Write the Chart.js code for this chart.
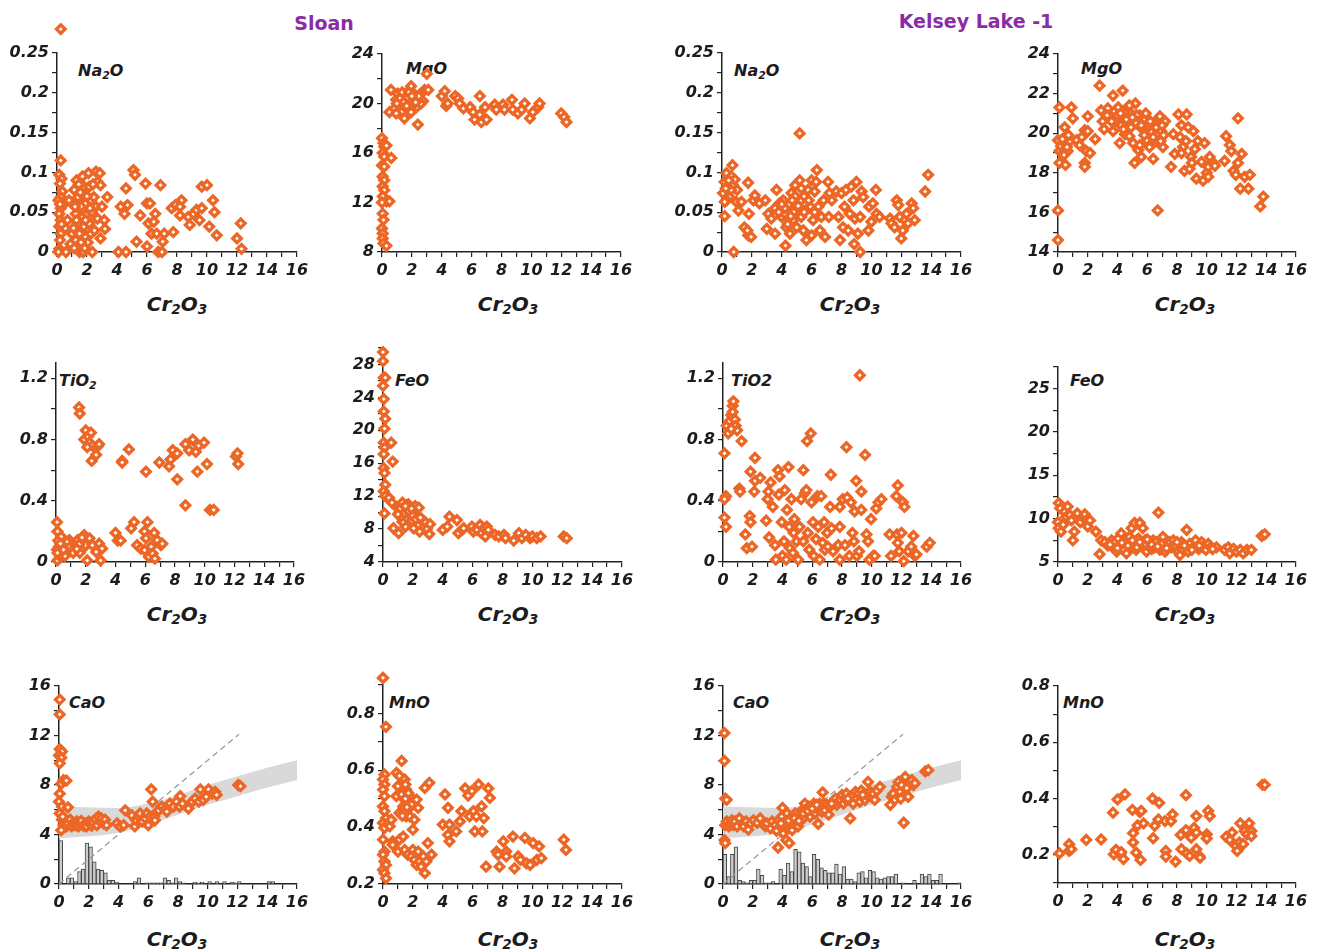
<!DOCTYPE html>
<html>
<head>
<meta charset="utf-8">
<script src="https://cdn.jsdelivr.net/npm/chart.js@4.4.1/dist/chart.umd.min.js"></script>
<style>
body { margin: 0; background: #fff; width: 1318px; height: 952px; position: relative; overflow: hidden; font-family: 'DejaVu Sans', sans-serif; }
canvas { position: absolute; }
.lbl { position: absolute; font: italic bold 16px 'DejaVu Sans', sans-serif; color: #1c1c1c; line-height: 18px; white-space: nowrap; }
.ax { position: absolute; font: italic bold 20px 'DejaVu Sans', sans-serif; color: #1c1c1c; line-height: 24px; transform: translateX(-50%); white-space: nowrap; }
.ttl { position: absolute; font: bold 19px 'DejaVu Sans', sans-serif; color: #8B2CA6; line-height: 24px; transform: translateX(-50%); white-space: nowrap; }
sub { font-size: 0.68em; vertical-align: -0.25em; line-height: 0; }
</style>
</head>
<body>
<div class="ttl" style="left:324px;top:11px">Sloan</div>
<div class="ttl" style="left:976px;top:9px">Kelsey Lake -1</div>

<div class="lbl" style="left:78px;top:62px">Na<sub>2</sub>O</div>
<div class="lbl" style="left:406px;top:60px">MgO</div>
<div class="lbl" style="left:734px;top:62px">Na<sub>2</sub>O</div>
<div class="lbl" style="left:1081px;top:60px">MgO</div>
<div class="lbl" style="left:59px;top:372px">TiO<sub>2</sub></div>
<div class="lbl" style="left:395px;top:372px">FeO</div>
<div class="lbl" style="left:731px;top:372px">TiO2</div>
<div class="lbl" style="left:1070px;top:372px">FeO</div>
<div class="lbl" style="left:69px;top:694px">CaO</div>
<div class="lbl" style="left:389px;top:694px">MnO</div>
<div class="lbl" style="left:733px;top:694px">CaO</div>
<div class="lbl" style="left:1063px;top:694px">MnO</div>

<div class="ax" style="left:177px;top:292px">Cr<sub>2</sub>O<sub>3</sub></div>
<div class="ax" style="left:508px;top:292px">Cr<sub>2</sub>O<sub>3</sub></div>
<div class="ax" style="left:850px;top:292px">Cr<sub>2</sub>O<sub>3</sub></div>
<div class="ax" style="left:1185px;top:292px">Cr<sub>2</sub>O<sub>3</sub></div>
<div class="ax" style="left:177px;top:602px">Cr<sub>2</sub>O<sub>3</sub></div>
<div class="ax" style="left:508px;top:602px">Cr<sub>2</sub>O<sub>3</sub></div>
<div class="ax" style="left:850px;top:602px">Cr<sub>2</sub>O<sub>3</sub></div>
<div class="ax" style="left:1185px;top:602px">Cr<sub>2</sub>O<sub>3</sub></div>
<div class="ax" style="left:177px;top:927px">Cr<sub>2</sub>O<sub>3</sub></div>
<div class="ax" style="left:508px;top:927px">Cr<sub>2</sub>O<sub>3</sub></div>
<div class="ax" style="left:850px;top:927px">Cr<sub>2</sub>O<sub>3</sub></div>
<div class="ax" style="left:1185px;top:927px">Cr<sub>2</sub>O<sub>3</sub></div>

<script>
// Cr2O3 (x) vs oxide (y), wt%

const sloanNa2O = [
  [0.25,0.28],[0.25,0.115],[0.15,0.097],[0.3,0.092],[0.2,0.086],[0.35,0.076],[0.25,0.069],[0.1,0.065],[0.25,0.055],[0.15,0.048],
  [0.25,0.04],[0.15,0.032],[0.25,0.023],[0.2,0.015],[0.15,0.004],[0.1,0],[0.6,0],[0.8,0.065],[0.7,0.04],[1.0,0.023],[0.9,0.01],
  [0.55,0.03],[0.45,0.06],[0.3,0.035],[0.2,0.06],
  [1.15,0.078],[1.35,0.065],[1.5,0.048],[1.6,0.027],[1.25,0.015],[1.5,0],[1.7,0.095],[1.8,0.082],[1.9,0.061],[1.6,0.057],
  [1.7,0.044],[1.8,0.032],[1.9,0.019],[1.25,0.048],[1.4,0.036],[1.5,0.023],[2.1,0.099],[2.15,0.082],[2.25,0.065],[2.0,0.048],
  [2.15,0.036],[2.25,0.023],[2.35,0],[1.75,0],[2.6,0.101],[2.85,0.099],[2.7,0.088],[2.9,0.084],[2.45,0.069],[2.6,0.057],
  [2.7,0.042],[2.5,0.027],[2.9,0.017],[3.0,0.057],[3.15,0.04],[3.2,0.029],[3.35,0.069],[1.4,0.069],[1.2,0.057],
  [1.3,0.09],[1.55,0.075],[2.0,0.07],[1.1,0.03],[2.3,0.05],[1.85,0.005],[2.05,0.012],
  [1.3,0.04],[1.6,0.012],[1.9,0.04],[2.2,0.055],[1.45,0.085],[2.4,0.085],[1.15,0.005],
  [4.1,0],[4.6,0],[4.25,0.057],[4.6,0.08],[4.5,0.048],[4.7,0.059],[5.1,0.103],[5.2,0.097],[5.3,0.013],[5.55,0.046],
  [5.9,0.086],[6.0,0.061],[6.1,0.036],[6.0,0.007],[6.2,0.061],[6.3,0.023],[6.45,0.038],[6.55,0.048],[6.65,0.023],[6.75,0],
  [6.9,0.084],[7.0,0],[7.05,0.013],[7.15,0.023],
  [7.65,0.055],[7.75,0.025],[7.9,0.059],[8.2,0.046],[8.3,0.065],[8.2,0.057],[8.75,0.044],[8.85,0.034],[9.1,0.048],[9.3,0.053],
  [9.5,0.04],[9.65,0.055],[9.65,0.082],[10.0,0.084],[10.15,0.032],[10.4,0.065],[10.5,0.05],[10.65,0.021],
  [12.0,0.017],[12.25,0.036],[12.3,0.004]
];

const sloanMgO = [
  [0,17.2],[0.1,16.8],[0.15,16.5],[0.3,16.6],[0.05,16.0],[0.15,15.7],[0.62,15.6],[0,15.0],[0.15,14.9],[0.05,14.1],
  [0.15,13.8],[0.05,13.3],[0.15,13.0],[0.05,12.5],[0.3,12.1],[0.5,12.1],[0,12.0],[0.05,11.1],[0.1,10.6],[0,9.9],
  [0.05,9.5],[0.05,9.1],[0.1,8.7],[0.3,8.5],
  [0.6,21.1],[0.5,19.3],[0.85,19.6],[0.95,20.3],[1.05,20.8],[1.2,20.0],[1.3,20.6],[1.4,19.7],[1.5,20.2],[1.5,18.8],
  [1.6,20.8],[1.75,19.5],[1.85,20.4],[1.95,21.4],[2.1,19.9],[2.2,20.7],[2.3,19.7],[2.4,18.3],[2.5,20.4],[2.6,20.8],
  [2.75,20.2],[2.85,21.1],[3.0,22.4],[3.1,21.1],[2.6,20.0],[1.3,19.3],[0.95,19.2],[1.6,20.0],[1.95,19.3],[2.1,20.3],
  [1.1,19.9],[1.35,20.9],[1.7,20.5],[2.0,20.1],[1.2,20.4],[1.45,20.1],[1.8,20.9],[2.25,20.1],[1.0,20.0],[2.45,20.6],
  [1.65,19.8],[2.0,20.6],
  [4.0,20.6],[4.2,21.0],[4.3,19.8],[4.4,20.0],[4.9,20.6],[5.1,20.4],[5.2,20.0],[5.45,19.6],[5.9,19.7],[6.1,19.3],
  [6.2,18.7],[6.55,20.6],[6.55,19.1],[6.65,18.5],[6.9,19.7],[7.0,18.7],[7.55,19.9],[7.65,19.5],[8.1,19.9],[8.2,19.5],
  [8.7,20.3],[8.75,19.5],[9.1,19.2],[9.35,19.5],[9.55,20.0],[9.9,18.8],[10.1,19.3],[10.45,19.7],[10.55,20.0],
  [12.0,19.2],[12.2,18.9],[12.35,18.5]
];

const kelseyNa2O = [
  [0.07,0.074],[0.18,0.088],[0.3,0.099],[0.4,0.082],[0.5,0.069],[0.63,0.095],[0.7,0.109],[0.74,0.084],[0.3,0.065],[0.18,0.063],
  [0.85,0.091],[1.0,0.078],[0.18,0.045],[0.78,0],[0.96,0.063],[1.1,0.052],[1.3,0.063],[0.45,0.09],[0.6,0.078],[0.25,0.08],
  [1.75,0.087],[1.8,0.048],[1.5,0.031],[1.75,0.021],[1.95,0.019],[2.1,0.065],[2.2,0.071],[1.7,0.027],
  [2.5,0.061],[2.9,0.065],[3.1,0.048],[3.0,0.029],[3.3,0.042],[3.55,0.055],[3.65,0.078],[3.55,0.023],[3.85,0.061],[4.0,0.044],
  [4.1,0.065],[4.2,0.048],[4.3,0.031],[4.25,0.008],[4.4,0.057],[4.55,0.023],[4.65,0.074],[4.75,0.04],[4.9,0.084],[4.9,0.061],
  [5.0,0.048],[5.0,0.031],[5.2,0.149],[5.2,0.09],[5.3,0.065],[5.3,0.044],[5.45,0.027],[5.65,0.015],[5.75,0.078],[5.9,0.057],
  [6.0,0.09],[6.0,0.021],[6.1,0.04],[6.2,0.076],[6.3,0.088],[6.35,0.103],[6.45,0.057],[6.55,0.027],[6.65,0.044],[6.8,0.065],
  [6.9,0.019],[7.1,0.088],[7.2,0.074],[7.15,0.044],[7.35,0.065],[3.9,0.052],[4.5,0.06],[4.8,0.05],[5.5,0.07],[5.6,0.052],
  [4.2,0.055],[4.6,0.045],[4.9,0.07],[5.1,0.058],[5.5,0.05],[5.8,0.065],[4.4,0.035],[3.8,0.05],[6.2,0.05],[5.3,0.08],
  [4.7,0.065],[4.0,0.06],
  [7.65,0.076],[7.8,0.044],[7.9,0.015],[8.0,0.074],[8.1,0.031],[8.2,0.057],[8.3,0.078],[8.45,0.027],[8.55,0.048],[8.65,0.082],
  [8.8,0.065],[8.85,0.01],[8.9,0.042],[9.0,0.088],[9.1,0.023],[9.25,0.044],[9.25,0],[9.35,0.076],[9.45,0.069],[9.8,0.027],
  [9.85,0.057],[10.0,0.038],[10.1,0.061],[10.3,0.078],[10.35,0.048],[10.55,0.044],
  [11.25,0.042],[11.35,0.036],[11.55,0.031],[11.7,0.065],[11.8,0.059],[11.9,0.044],[12.0,0.017],[12.1,0.027],[12.25,0.04],
  [12.35,0.048],[12.45,0.036],[12.7,0.061],[12.8,0.055],[12.9,0.04],[13.6,0.076],[13.8,0.097]
];

const kelseyMgO = [
  [0,16.1],[0,14.6],[0.1,21.3],[0,19.65],[0.1,19.1],[0.2,19.35],[0.35,19.0],[0.45,19.5],[0.55,19.8],[0.65,19.1],
  [0.45,20.3],[0.8,19.6],[0.1,18.5],[0.5,18.4],[0.9,21.3],[1.0,20.75],[1.25,19.65],[1.45,19.4],[1.6,19.8],[1.8,20.15],
  [1.8,18.5],[1.8,18.3],[1.9,19.1],[2.0,20.85],[2.0,20.1],[2.15,19.0],[2.5,19.7],[2.8,22.4],[2.9,21.15],[3.0,20.6],
  [3.1,20.2],[3.35,21.25],[3.45,20.75],[3.7,21.9],[3.7,20.1],[3.8,21.1],[3.9,20.6],[4.05,21.3],[4.15,19.5],[4.25,20.4],
  [4.35,22.15],[4.4,20.85],[4.5,19.95],[4.6,21.2],[4.7,20.5],[4.8,19.85],[4.9,21.0],[5.05,19.5],[5.15,18.5],[5.2,21.5],
  [5.25,20.5],[5.4,19.15],[5.5,20.9],[5.6,18.8],[5.7,20.2],[5.85,20.7],[5.95,19.65],[6.05,20.45],[6.15,19.3],[6.3,20.05],
  [6.4,18.7],[6.5,20.55],[6.6,19.6],[6.7,16.1],[6.85,20.85],[6.95,20.1],[7.05,19.3],[7.2,20.6],[4.0,20.9],[4.5,21.0],
  [4.2,21.0],[4.6,20.7],[4.9,20.3],[5.3,20.9],[5.6,20.4],[5.9,21.0],[6.2,20.6],[6.6,20.3],[4.4,20.2],[5.0,20.8],
  [5.8,19.9],[6.4,19.8],[7.0,20.4],[3.6,20.6],[4.8,21.4],[6.9,19.6],[7.1,19.9],[5.5,19.4],[3.3,20.9],
  [0.3,19.7],[0.6,19.3],[0.4,18.9],[0.7,19.9],
  [7.6,18.3],[7.75,19.95],[7.85,18.95],[8.1,20.95],[8.2,19.8],[8.3,20.4],[8.4,19.3],[8.5,18.1],[8.65,20.95],[8.75,20.3],
  [8.85,18.2],[8.95,18.8],[9.1,20.1],[9.2,19.2],[9.3,17.7],[9.4,19.6],[9.65,18.55],[9.75,17.6],[9.85,19.5],[10.0,18.0],
  [10.1,18.3],[10.2,18.8],[10.45,18.5],[10.55,18.35],[8.3,19.0],[8.6,19.6],[9.0,18.5],[10.1,17.8],
  [11.2,18.6],[11.3,19.85],[11.55,19.4],[11.65,19.1],[11.8,18.1],[11.95,17.9],[12.1,20.75],[12.1,18.5],[12.25,17.2],[12.35,18.95],
  [12.55,17.8],[12.8,17.2],[12.9,17.9],[13.6,16.3],[13.8,16.8]
];

const sloanTiO2 = [
  [0.07,0.26],[0.1,0.2],[0.15,0.14],[0.07,0.08],[0.1,0.01],[0.2,0.1],[0.35,0.165],[0.45,0.055],[0.55,0.12],[0.65,0.077],
  [0.8,0.1],[1.0,0.077],[1.25,0.088],[1.35,0.12],[1.45,0.143],[1.5,0.077],[1.7,0.12],[1.8,0.088],[1.9,0.175],[2.0,0.11],
  [2.1,0.01],[2.25,0.155],[2.45,0.11],[2.7,0.066],[2.9,0.12],[3.0,0.01],[3.1,0.088],[1.1,0.11],[0.9,0.143],[0.3,0.033],
  [0.2,0.05],[0.4,0.09],[0.6,0.04],[0.75,0.13],[0.95,0.1],[1.15,0.06],[1.3,0.1],[1.55,0.115],[1.6,0.06],[1.4,0.085],
  [0.3,0.12],[0.1,0.06],[1.75,0.16],[0.5,0.08],
  [1.55,1.01],[1.6,0.97],[2.0,0.86],[1.9,0.8],[2.15,0.82],[2.35,0.845],[2.25,0.78],[2.45,0.76],[2.4,0.66],[2.7,0.7],
  [2.8,0.755],[2.9,0.77],[2.1,0.75],
  [4.0,0.19],[4.15,0.14],[4.35,0.14],[4.45,0.66],[4.45,0.65],[4.9,0.735],[5.05,0.22],[5.25,0.26],[5.45,0.11],[5.7,0.088],
  [5.95,0.077],[6.05,0.59],[5.95,0.2],[6.05,0.155],[6.15,0.26],[6.25,0.033],[6.4,0.1],[6.5,0.055],[6.6,0.19],[6.65,0.022],
  [6.8,0.143],[6.95,0.65],[7.05,0.11],[7.15,0.12],
  [7.6,0.625],[7.7,0.67],[7.85,0.73],[8.15,0.71],[8.15,0.54],[8.7,0.77],[8.7,0.37],[8.95,0.73],[9.2,0.8],[9.4,0.72],
  [9.5,0.59],[9.6,0.76],[9.95,0.78],[10.15,0.64],[10.35,0.34],[10.6,0.34],[12.1,0.69],[12.2,0.71],[12.25,0.64]
];

const sloanFeO = [
  [0,29.5],[0,28.4],[0.05,26.4],[0.15,26.4],[0,25.4],[0.05,23.8],[0.05,22.3],[0.15,21.4],[0.1,20.2],[0.05,18.5],
  [0.55,18.5],[0.1,17.9],[0.05,17.1],[0.65,16.2],[0.05,15.4],[0.1,14.8],[0.15,13.4],[0.05,12.6],[0.15,12.0],[0.1,9.9],
  [0.4,11.8],[0.6,11.2],[0.7,8.1],[0.95,10.6],[1.05,7.5],[1.15,10.0],[1.3,11.2],[1.4,10.6],[1.5,9.2],[1.6,10.4],
  [1.7,11.0],[1.8,9.8],[1.95,9.0],[2.15,10.8],[2.3,9.6],[2.4,10.6],[2.45,7.7],[2.6,9.0],[2.85,8.8],[2.95,8.0],
  [3.1,7.4],[3.15,8.6],[1.5,8.3],[1.3,8.9],[2.05,8.1],[1.2,9.5],[1.6,10.9],[2.0,9.6],
  [1.1,10.4],[1.4,9.9],[1.7,10.2],[1.9,10.5],[2.2,9.2],[1.0,9.8],[1.5,10.8],[2.5,9.4],
  [4.0,7.9],[4.3,8.3],[4.45,9.5],[4.95,9.1],[5.05,7.5],[5.3,7.9],[5.4,8.1],[5.95,8.3],[6.05,7.7],[6.3,7.9],
  [6.5,8.5],[6.6,7.5],[6.75,8.1],[6.85,7.1],[6.95,8.3],[7.05,7.9],[7.5,7.3],[7.75,7.1],[8.1,7.3],[8.2,6.9],
  [8.75,6.6],[9.1,7.5],[9.3,6.9],[9.55,7.3],[9.85,6.9],[10.0,7.1],[10.3,6.9],[10.55,7.1],[12.1,7.1],[12.3,6.9]
];

const kelseyTiO2 = [
  [0.1,0.71],[0.2,0.43],[0.1,0.41],[0.1,0.29],[0.2,0.23],[0.25,0.89],[0.35,0.84],[0.45,0.92],[0.55,0.96],[0.65,1.02],
  [0.7,1.05],[0.8,0.93],[0.85,0.89],[0.95,0.86],[0.55,0.87],[0.65,0.98],[1.1,0.48],[1.15,0.46],[1.25,0.79],[1.5,0.18],
  [1.6,0.09],[1.8,0.3],[1.85,0.26],[1.85,0.59],[2.1,0.46],[2.15,0.53],[2.15,0.68],[1.95,0.1],[2.5,0.55],[2.9,0.27],
  [3.0,0.41],[3.05,0.46],[3.1,0.16],[3.2,0.52],[3.35,0.36],[3.5,0.11],[3.55,0.015],[3.7,0.6],[3.75,0.44],[3.8,0.56],
  [3.95,0.26],[4.0,0.04],[4.1,0.135],[4.15,0.47],[4.25,0.015],[4.3,0.34],[4.4,0.62],[4.45,0.23],[4.5,0.09],[4.6,0.41],
  [4.7,0.06],[4.75,0.19],[4.8,0.28],[4.95,0.135],[5.05,0.015],[5.15,0.23],[5.25,0.41],[5.4,0.6],[5.4,0.135],[5.5,0.45],
  [5.6,0.47],[5.65,0.79],[5.7,0.19],[5.8,0.08],[5.9,0.84],[5.95,0.39],[6.05,0.26],[6.1,0.04],[6.25,0.15],[6.35,0.43],
  [6.4,0.23],[6.5,0.015],[6.6,0.43],[6.7,0.125],[6.8,0.26],[6.85,0.08],[7.0,0.19],[7.05,0.1],[7.2,0.36],[7.25,0.57],
  [7.3,0.22],[7.4,0.07],[7.75,0.11],[7.85,0.36],[7.85,0.23],[7.85,0.015],[8.05,0.41],[8.2,0.11],[8.3,0.75],[8.35,0.42],
  [8.5,0.04],[8.6,0.39],[8.7,0.19],[8.8,0.135],[8.85,0.33],[8.95,0.53],[9.0,0.04],[9.15,0.07],[9.2,1.22],[9.3,0.46],
  [9.3,0.34],[9.55,0.7],[9.65,0.18],[9.75,0.135],[9.85,0.015],[9.95,0.28],[10.1,0.04],[10.2,0.04],[10.3,0.35],[10.45,0.39],
  [10.65,0.41],[11.2,0.18],[11.3,0.04],[11.65,0.43],[11.7,0.18],[11.75,0.5],[11.75,0.125],[11.85,0.07],[12.0,0.19],[12.1,0.39],
  [12.15,0.005],[12.2,0.36],[12.45,0.07],[12.65,0.1],[12.8,0.17],[12.9,0.04],[13.0,0.05],[13.7,0.1],[13.9,0.125]
];

const kelseyFeO = [
  [0.05,11.8],[0.15,11.2],[0,9.6],[0.05,8.9],[0.2,8.5],[0.35,9.3],[0.45,10.8],[0.55,10.2],[0.65,11.4],[0.8,10.4],
  [0.9,9.8],[1.0,7.5],[1.1,8.5],[1.3,10.6],[1.5,9.6],[1.8,10.5],[1.9,9.8],[2.0,9.1],[2.15,9.8],[2.55,8.5],
  [2.8,5.9],[2.9,7.5],[3.15,7.3],[3.35,6.9],[3.6,7.5],[3.7,6.7],[3.8,7.3],[3.95,6.2],[4.05,7.7],[4.15,6.9],
  [4.25,8.3],[4.4,6.4],[4.55,7.3],[4.6,6.0],[4.8,7.9],[4.85,6.7],[4.95,8.9],[5.05,7.1],[5.15,9.5],[5.25,6.4],
  [5.4,7.7],[5.5,9.5],[5.6,6.9],[5.7,8.9],[5.85,7.5],[5.95,6.2],[6.05,6.9],[6.2,7.3],[6.3,6.5],[6.4,7.5],
  [6.5,6.7],[6.6,7.3],[6.75,10.7],[6.85,6.4],[6.95,7.1],[7.05,7.9],[7.2,6.2],[7.5,7.3],[7.65,6.7],[7.75,7.5],
  [7.95,6.4],[8.1,6.9],[8.2,5.8],[8.3,7.3],[8.4,6.5],[8.65,8.7],[8.75,6.2],[8.85,7.1],[9.1,6.7],[9.25,7.5],
  [9.45,6.5],[9.65,7.3],[9.75,6.7],[9.95,6.4],[10.1,7.1],[10.25,6.7],[10.65,6.7],[11.2,6.4],[11.45,6.7],[11.55,6.0],
  [3.5,7.0],[4.3,7.2],[4.7,6.9],[5.0,7.5],[5.3,6.7],[5.9,7.1],[6.3,7.0],[6.7,6.8],[7.3,6.6],[7.9,6.9],
  [8.5,6.9],[9.0,6.4],[9.5,6.9],[4.0,6.6],[5.5,7.3],[6.0,7.6],[8.0,7.3],[10.4,6.5],
  [11.8,6.5],[12.0,6.2],[12.25,6.4],[12.45,6.0],[12.7,6.4],[13.0,6.4],[13.7,8.0],[13.9,8.2]
];

const sloanCaO = [
  [0.05,14.9],[0.05,13.7],[0.05,10.9],[0.2,10.7],[0,10.4],[0.15,10.2],[0.05,9.75],[0.15,8.1],[0.3,8.4],[0.5,8.35],
  [0.05,7.3],[0,6.65],[0.2,6.25],[0.6,6.2],[0.05,5.7],[0.2,5.2],[0.3,4.75],[0.4,5.05],[0.5,4.65],[0.6,4.9],
  [0.75,5.2],[0.85,4.65],[0.95,4.95],[1.1,4.75],[1.2,5.05],[1.3,4.65],[1.4,4.9],[1.5,5.1],[1.65,4.7],[1.75,4.9],
  [1.85,4.65],[2.0,5.05],[2.1,4.85],[2.2,4.7],[2.3,4.95],[2.45,5.25],[2.55,4.75],[2.65,5.45],[2.75,5.05],[2.85,5.3],
  [3.0,4.9],[3.1,5.2],[3.2,4.75],[0.15,4.35],[0.25,5.45],
  [3.9,4.9],[4.1,4.65],[4.35,4.75],[4.45,5.95],[4.9,5.55],[5.1,4.65],[5.2,5.15],[5.35,5.45],[5.45,5.7],[5.6,5.05],
  [5.8,5.3],[5.9,5.7],[6.0,4.75],[6.1,5.45],[6.2,7.65],[6.3,6.65],[6.4,5.45],[6.45,5.15],[6.6,5.85],[6.7,5.95],
  [6.9,6.25],[7.15,6.1],[7.25,5.85],[7.45,6.5],[7.7,6.25],[7.9,6.65],[8.1,6.25],[8.15,7.1],[8.3,6.5],[8.7,6.1],
  [8.95,6.65],[9.15,6.9],[9.4,6.65],[9.5,7.65],[9.7,6.8],[9.9,7.05],[10.05,7.65],[10.3,7.3],[10.5,7.45],[10.6,7.2],
  [12.05,8.0],[12.2,7.9]
];

const sloanMnO = [
  [0,0.925],[0.2,0.753],[0.1,0.585],[0,0.568],[0.1,0.55],[0,0.532],[0.1,0.509],[0,0.473],[0.1,0.456],[0.2,0.432],
  [0,0.415],[0.1,0.397],[0,0.356],[0.1,0.314],[0,0.303],[0.1,0.279],[0.2,0.267],[0,0.25],[0.1,0.238],[0.2,0.22],
  [0.35,0.415],[0.45,0.403],[0.55,0.426],[0.65,0.35],[0.65,0.338],[0.9,0.591],[1.0,0.544],[0.9,0.509],[1.1,0.58],[1.1,0.45],
  [1.25,0.633],[1.25,0.515],[1.35,0.556],[1.35,0.473],[1.45,0.497],[1.45,0.568],[1.55,0.532],[1.55,0.438],[1.65,0.491],[1.65,0.462],
  [1.8,0.509],[1.8,0.438],[1.9,0.479],[1.1,0.356],[1.35,0.367],[1.0,0.314],[1.45,0.32],[1.65,0.303],[1.9,0.297],[2.0,0.391],
  [2.1,0.426],[2.25,0.497],[2.35,0.468],[2.0,0.32],[2.1,0.285],[2.25,0.267],[2.35,0.314],[2.45,0.279],[2.55,0.261],[2.7,0.297],
  [2.8,0.238],[2.9,0.279],[2.8,0.538],[3.0,0.344],[3.1,0.556],[3.25,0.303],
  [1.5,0.5],[1.6,0.47],[1.4,0.45],[1.7,0.52],[1.5,0.55],[1.3,0.44],
  [4.0,0.409],[4.15,0.515],[4.35,0.468],[4.45,0.409],[4.35,0.373],[4.45,0.35],[4.9,0.385],[5.15,0.42],[5.25,0.456],[5.5,0.536],
  [5.7,0.511],[5.8,0.438],[5.95,0.527],[6.05,0.456],[6.15,0.385],[6.25,0.438],[6.4,0.55],[6.6,0.473],[6.65,0.385],[6.75,0.432],
  [6.9,0.261],[7.05,0.536],[7.15,0.503],
  [7.6,0.314],[7.7,0.303],[7.8,0.261],[8.05,0.35],[8.25,0.314],[8.25,0.297],[8.7,0.367],[8.8,0.255],[9.05,0.297],[9.2,0.285],
  [9.5,0.362],[9.6,0.273],[9.85,0.267],[10.05,0.344],[10.3,0.285],[10.45,0.332],[10.6,0.291],[12.1,0.356],[12.25,0.32]
];

const kelseyCaO = [
  [0.1,12.2],[0.1,9.95],[0.15,6.9],[0.25,6.8],[0.1,3.55],[0.15,3.3],[0.15,4.75],[0.25,5.05],[0.4,4.65],[0.5,4.9],
  [0.6,5.15],[0.7,4.75],[0.8,5.05],[0.95,4.65],[1.1,5.3],[1.3,4.9],[1.4,4.65],[1.55,5.05],[1.7,4.4],[1.85,4.9],
  [2.05,5.15],[2.3,4.95],[2.5,5.3],[2.85,4.65],[2.95,4.9],[3.2,4.5],[3.3,5.05],[3.5,4.75],[3.6,4.3],[3.7,2.95],
  [3.75,5.15],[3.85,4.65],[3.95,5.45],[4.0,6.15],[4.05,4.1],[4.2,5.05],[4.25,3.55],[4.3,5.7],[4.4,4.65],[4.45,3.3],
  [4.5,5.3],[4.65,4.35],[4.75,4.9],[4.85,5.7],[4.95,5.15],[5.05,4.65],[5.2,5.55],[5.3,5.95],[5.4,5.3],[5.5,6.5],
  [5.65,5.7],[5.75,6.25],[5.85,5.45],[5.95,5.95],[6.1,6.5],[6.2,5.7],[6.3,6.1],[6.4,4.85],[6.5,6.5],[6.65,5.85],
  [6.7,7.4],[6.8,6.5],[6.85,5.95],[7.0,6.4],[7.1,5.6],[7.2,6.25],[7.45,6.65],[7.55,6.9],[7.65,6.4],[7.75,6.65],
  [7.9,6.8],[8.0,7.2],[8.1,6.5],[8.2,6.9],[8.3,7.3],[8.45,6.8],[8.55,5.3],[8.65,7.05],[8.75,6.5],[8.9,7.45],
  [9.0,6.9],[9.1,7.3],[9.2,6.65],[9.3,7.55],[9.45,7.05],[9.55,6.8],[9.65,7.2],[9.75,8.25],[9.9,7.45],[10.0,7.05],
  [10.1,7.3],[10.2,6.8],[10.35,7.55],[10.55,7.85],[4.6,5.0],[5.0,5.4],[5.6,6.0],[4.2,4.6],
  [4.4,5.1],[4.8,5.3],[5.1,5.1],[5.4,5.7],[5.7,5.9],[6.0,6.1],[4.1,4.8],[3.9,4.9],[6.3,6.4],[7.3,6.5],
  [8.4,6.9],[9.4,7.2],
  [11.25,6.4],[11.35,7.05],[11.45,7.3],[11.55,6.8],[11.7,7.85],[11.8,8.25],[11.9,7.45],[11.95,6.9],[12.0,8.0],[12.15,4.95],
  [12.25,8.65],[12.35,7.75],[12.45,7.05],[12.7,8.4],[12.8,8.0],[12.9,8.15],[13.6,9.1],[13.8,9.2]
];

const kelseyMnO = [
  [0.1,0.205],[0.75,0.238],[0.75,0.214],[0.9,0.22],[1.9,0.253],[2.9,0.255],[3.7,0.35],[3.75,0.202],[3.9,0.218],[4.0,0.397],
  [4.2,0.202],[4.25,0.21],[4.4,0.185],[4.5,0.415],[5.0,0.36],[5.05,0.277],[5.05,0.244],[5.25,0.208],[5.35,0.305],[5.5,0.352],
  [5.6,0.356],[5.55,0.182],[5.75,0.312],[6.35,0.4],[6.4,0.259],[6.5,0.303],[6.75,0.326],[6.8,0.385],[7.2,0.32],[7.25,0.214],
  [7.25,0.194],[7.6,0.32],[7.7,0.344],[7.9,0.176],[8.25,0.271],[8.3,0.22],[8.6,0.412],[8.6,0.288],[8.65,0.205],[8.85,0.196],
  [8.95,0.261],[9.15,0.296],[9.3,0.338],[9.3,0.279],[9.3,0.22],[9.5,0.196],[9.55,0.19],[10.0,0.273],[10.0,0.258],[10.1,0.356],
  [10.2,0.338],[11.3,0.264],[11.55,0.253],[11.7,0.279],[11.95,0.232],[12.05,0.214],[12.2,0.244],[12.25,0.312],[12.45,0.238],[12.55,0.285],
  [12.7,0.273],[12.85,0.312],[13.0,0.285],[13.0,0.267],[13.75,0.449],[13.9,0.449]
];

// CaO panels: grey field, 1:1 dashed line, Cr2O3 histograms (0.25 wt% bins)
const bandX = [0, 2, 4, 6, 8, 10, 12, 14, 16];
const bandUpper = [6.25, 6.2, 6.15, 6.5, 7.2, 8.0, 8.7, 9.4, 10.0];
const bandLower = [3.7, 3.85, 4.15, 4.8, 5.6, 6.4, 7.1, 7.8, 8.4];
const oneToOne = [[0, 0], [12.1, 12.1]];
const binWidth = 0.25;
const sloanHist = [
  3.5, 0, 0.5, 0.5, 0.2, 1.0, 1.2, 3.3, 3.0, 1.8, 1.2, 1.1, 0.9, 0.3, 0.3, 0.15,
  0, 0, 0, 0, 0.2, 0.5, 0, 0.1, 0.1, 0.1, 0.1, 0.1, 0.5, 0.3, 0.1, 0.5,
  0.2, 0.1, 0, 0, 0.15, 0.1, 0.15, 0, 0.2, 0, 0.2, 0, 0.2, 0, 0.15, 0.1,
  0.2, 0, 0, 0, 0, 0, 0, 0, 0.2, 0.2, 0, 0, 0, 0, 0, 0
];
const kelseyHist = [
  2.4, 0.6, 2.4, 3.0, 0.3, 0.2, 0.1, 0.3, 0.3, 1.2, 0.7, 0.1, 0.1, 0.2, 0, 1.2,
  0.7, 1.7, 1.0, 2.8, 2.6, 1.7, 1.4, 0.6, 2.4, 2.0, 1.3, 1.1, 0.9, 0.9, 1.6, 0.8,
  1.4, 0.4, 0.4, 0.2, 0.9, 1.0, 0.5, 1.1, 1.0, 0.5, 0.4, 0.5, 0.6, 0.6, 0.8, 0,
  0.1, 0, 0, 0.3, 0, 0.8, 0.6, 0.8, 0.3, 0.3, 0.8, 0, 0, 0, 0, 0.1
];

const ORANGE = '#EC6625';
const INK = '#1c1c1c';
const tickFont = { family: "'DejaVu Sans', sans-serif", size: 16, weight: 'bold', style: 'italic' };

Chart.defaults.font.family = "'DejaVu Sans', sans-serif";

// Chart.js skips points lying outside the chart area even with clip:false; draw those too
const outsidePoints = {
    id: 'outsidePoints',
    afterDatasetDraw(chart, args) {
        const meta = args.meta;
        if (meta.type !== 'scatter') return;
        const a = chart.chartArea;
        meta.data.forEach(el => {
            if (el.y < a.top || el.y > a.bottom || el.x < a.left || el.x > a.right) el.draw(chart.ctx);
        });
    }
};

function fmt(v) {
    return String(Number(v.toFixed(3)));
}

function makePanel(p) {
    const padL = 52, padT = 30, padR = 22, padB = 30;
    const canvas = document.createElement('canvas');
    canvas.width = p.right - p.left + padL + padR;
    canvas.height = p.bottom - p.top + padT + padB;
    canvas.style.left = (p.left - padL) + 'px';
    canvas.style.top = (p.top - padT) + 'px';
    document.body.appendChild(canvas);

    const datasets = [{
        type: 'scatter',
        data: p.points.map(([x, y]) => ({ x, y })),
        pointStyle: 'rectRot',
        pointRadius: 4.3,
        borderWidth: 3.3,
        borderColor: ORANGE,
        backgroundColor: '#fff',
        clip: false,
        order: 0
    }];

    if (p.hist) {
        datasets.push({
            type: 'line',
            data: oneToOne.map(([x, y]) => ({ x, y })),
            borderColor: '#9c9c9c',
            borderWidth: 1.3,
            borderDash: [6, 4],
            pointRadius: 0,
            fill: false,
            order: 1
        });
        datasets.push({
            type: 'bar',
            data: p.hist.map((v, i) => ({ x: i * binWidth + binWidth / 2, y: v })),
            backgroundColor: '#cdcdcd',
            borderColor: '#444',
            borderWidth: 1,
            barPercentage: 1,
            categoryPercentage: 1,
            order: 2
        });
        datasets.push({
            type: 'line',
            data: bandX.map((x, i) => ({ x, y: bandUpper[i] })),
            borderColor: 'rgba(0,0,0,0)',
            borderWidth: 0,
            pointRadius: 0,
            backgroundColor: '#d9d9d9',
            fill: '+1',
            cubicInterpolationMode: 'monotone',
            order: 3
        });
        datasets.push({
            type: 'line',
            data: bandX.map((x, i) => ({ x, y: bandLower[i] })),
            borderColor: 'rgba(0,0,0,0)',
            borderWidth: 0,
            pointRadius: 0,
            fill: false,
            cubicInterpolationMode: 'monotone',
            order: 4
        });
    }

    new Chart(canvas, {
        type: 'scatter',
        data: { datasets },
        plugins: [outsidePoints],
        options: {
            responsive: false,
            animation: false,
            devicePixelRatio: 1,
            events: [],
            layout: { padding: { left: 0, top: padT, right: padR, bottom: 0 } },
            plugins: { legend: { display: false }, tooltip: { enabled: false } },
            scales: {
                x: {
                    type: 'linear',
                    offset: false,
                    min: 0, max: 16,
                    afterFit: s => { s.height = padB; },
                    ticks: {
                        stepSize: 1, autoSkip: false, maxRotation: 0, padding: 4,
                        color: INK, font: tickFont,
                        callback: v => (v % 2 === 0 ? String(v) : '')
                    },
                    grid: { offset: false, drawOnChartArea: false, tickLength: 5, color: '#222', lineWidth: 1.2 },
                    border: { color: '#222', width: 1.5 }
                },
                y: {
                    type: 'linear',
                    min: p.yMin, max: p.yMax,
                    afterFit: s => { s.width = padL; },
                    ticks: {
                        stepSize: p.yStep, includeBounds: false, autoSkip: false, padding: 3,
                        color: INK, font: tickFont,
                        callback: v => {
                            const r = v / p.yLabel;
                            return Math.abs(r - Math.round(r)) < 1e-6 ? fmt(v) : '';
                        }
                    },
                    grid: { drawOnChartArea: false, tickLength: 5, color: '#222', lineWidth: 1.2 },
                    border: { color: '#222', width: 1.5 }
                }
            }
        }
    });
}

const panels = [
    { points: sloanNa2O,  left: 57,   right: 297,  top: 53,  bottom: 252, yMin: 0,   yMax: 0.25, yStep: 0.025, yLabel: 0.05 },
    { points: sloanMgO,   left: 382,  right: 621,  top: 54,  bottom: 252, yMin: 8,   yMax: 24,   yStep: 2,     yLabel: 4 },
    { points: kelseyNa2O, left: 722,  right: 961,  top: 53,  bottom: 252, yMin: 0,   yMax: 0.25, yStep: 0.025, yLabel: 0.05 },
    { points: kelseyMgO,  left: 1058, right: 1296, top: 54,  bottom: 252, yMin: 14,  yMax: 24,   yStep: 1,     yLabel: 2 },
    { points: sloanTiO2,  left: 56,   right: 294,  top: 363, bottom: 562, yMin: 0,   yMax: 1.3,  yStep: 0.2,   yLabel: 0.4 },
    { points: sloanFeO,   left: 383,  right: 622,  top: 348, bottom: 562, yMin: 4,   yMax: 30,   yStep: 2,     yLabel: 4 },
    { points: kelseyTiO2, left: 723,  right: 961,  top: 363, bottom: 562, yMin: 0,   yMax: 1.3,  yStep: 0.2,   yLabel: 0.4 },
    { points: kelseyFeO,  left: 1058, right: 1296, top: 367, bottom: 562, yMin: 5,   yMax: 27.5, yStep: 2.5,   yLabel: 5 },
    { points: sloanCaO,   left: 59,   right: 297,  top: 686, bottom: 884, yMin: 0,   yMax: 16,   yStep: 2,     yLabel: 4, hist: sloanHist },
    { points: sloanMnO,   left: 383,  right: 622,  top: 685, bottom: 884, yMin: 0.2, yMax: 0.9,  yStep: 0.1,   yLabel: 0.2 },
    { points: kelseyCaO,  left: 723,  right: 961,  top: 686, bottom: 884, yMin: 0,   yMax: 16,   yStep: 2,     yLabel: 4, hist: kelseyHist },
    { points: kelseyMnO,  left: 1058, right: 1296, top: 686, bottom: 883, yMin: 0.1, yMax: 0.8,  yStep: 0.1,   yLabel: 0.2 }
];

panels.forEach(makePanel);
</script>
</body>
</html>
